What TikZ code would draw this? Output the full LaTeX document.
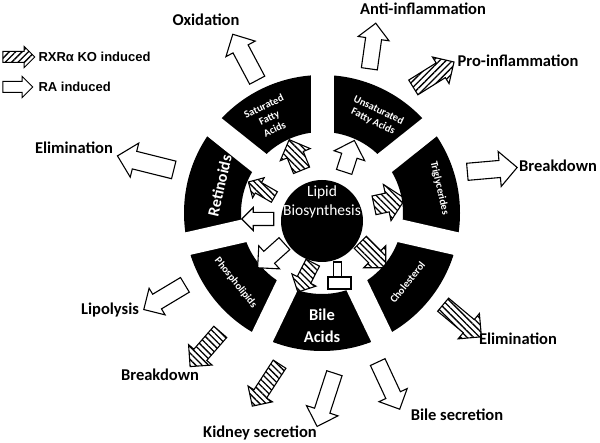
\documentclass[tikz,border=0pt]{standalone}
\usepackage{fontspec}
\setmainfont{Carlito}
\newfontfamily\legendfont{Liberation Sans}
\usetikzlibrary{shapes.arrows, patterns.meta}

\tikzset{
    blockarrow/.style n args={3}{single arrow, draw=black, line width=1.1pt,
        inner xsep=0pt, inner ysep=#3*0.5pt, minimum height=#1pt,
        single arrow head extend=(#2-#3)/2*1pt},
    hatched/.style={pattern={Lines[angle=#1,distance=4.5pt,line width=1.3pt]}},
    hatched/.default=-45,
    outtext/.style={font=\bfseries\fontsize{16.5}{19}\selectfont},
    segtext/.style={text=white, align=center, font=\bfseries\fontsize{10.5}{12.5}\selectfont},
    bigsegtext/.style={text=white, align=center, font=\bfseries\fontsize{16.5}{22}\selectfont},
}

\begin{document}
\begin{tikzpicture}[x=1pt, y=1pt]
    \useasboundingbox (0,0) rectangle (600,-443);
    \coordinate (c) at (322,-213);

    % ring
    \fill[even odd rule] (c) circle[radius=138] (c) circle[radius=81];
    \foreach \a in {90,141.43,192.86,244.29,295.71,347.14,38.57}
        \draw[white, line width=23pt] (c) -- ++(\a:150);
    \fill (322,-221) circle[radius=41];
    \node[text=white, align=center, font=\fontsize{15.5}{19}\selectfont] (lipid) at (322,-202) {Lipid\\Biosynthesis};

    % segment labels
    \node[segtext, rotate=25.7] (satfa) at ([shift={(119:109)}]c) {Saturated\\Fatty\\Acids};
    \node[segtext, rotate=-25.7] (unsatfa) at ([shift={(61:111)}]c) {Unsaturated\\Fatty Acids};
    \node[segtext, rotate=-77] (trig) at ([shift={(12:120)}]c) {Triglycerides};
    \node[segtext, rotate=51.4] (chol) at ([shift={(-39:110)}]c) {Cholesterol};
    \node[bigsegtext] (bile) at ([shift={(-90:113)}]c) {Bile\\Acids};
    \node[segtext, rotate=-51.4] (phos) at ([shift={(219:111)}]c) {Phospholipids};
    \node[bigsegtext, rotate=77, font=\bfseries\fontsize{16}{19}\selectfont] (ret) at ([shift={(165:106)}]c) {Retinoids};

    % inner arrows
    \node[blockarrow={33}{31}{16}, hatched, rotate=112] (a-sat) at (297,-159) {};
    \node[blockarrow={33}{31}{15}, fill=white, rotate=72] (a-unsat) at (348,-160) {};
    \node[blockarrow={30}{22}{11}, hatched, rotate=150] (a-ret1) at (264,-191) {};
    \node[blockarrow={32}{22}{12}, fill=white, rotate=180] (a-ret2) at (261,-219) {};
    \node[blockarrow={32}{36}{18}, hatched, rotate=12] (a-trig) at (385,-203) {};
    \node[blockarrow={36}{30}{16}, hatched, rotate=-45] (a-chol) at (370,-252) {};
    \node[blockarrow={33}{26}{14}, hatched, rotate=-117] (a-bile) at (307,-274) {};
    \node[blockarrow={36}{30}{15}, fill=white, rotate=-138] (a-phos) at (274,-253) {};
    % inhibition on bile acids
    \draw[line width=1.1pt, fill=white] (333.5,-262) rectangle (341.5,-277);
    \draw[line width=1.1pt, fill=white] (328,-277) rectangle (351,-289);

    % outer arrows
    \node[blockarrow={52}{32}{16}, fill=white, rotate=118] (o-ox) at (247,-61) {};
    \node[blockarrow={46}{30}{15}, fill=white, rotate=82] (o-anti) at (372,-50) {};
    \node[blockarrow={48}{30}{16}, hatched=45, rotate=32] (o-pro) at (430,-77) {};
    \node[blockarrow={58}{34}{17}, fill=white, rotate=166] (o-elim1) at (150,-164) {};
    \node[blockarrow={50}{34}{16}, fill=white, rotate=5] (o-break1) at (488,-170) {};
    \node[blockarrow={50}{32}{16}, hatched, rotate=-40] (o-elim2) at (459,-318) {};
    \node[blockarrow={52}{30}{15}, fill=white, rotate=-65] (o-bsec) at (387,-382) {};
    \node[blockarrow={56}{32}{15}, fill=white, rotate=-108] (o-kid1) at (327,-396) {};
    \node[blockarrow={50}{28}{14}, hatched, rotate=-123] (o-kid2) at (268,-382) {};
    \node[blockarrow={46}{30}{16}, hatched, rotate=-131] (o-break2) at (208,-346) {};
    \node[blockarrow={48}{30}{16}, fill=white, rotate=-149] (o-lipo) at (168,-295) {};

    % outer labels
    \node[outtext] (oxid) at (206,-20) {Oxidation};
    \node[outtext] (antiinf) at (423,-9) {Anti-inflammation};
    \node[outtext] (proinf) at (518,-61) {Pro-inflammation};
    \node[outtext] (elim1) at (74,-148) {Elimination};
    \node[outtext] (break1) at (558,-166) {Breakdown};
    \node[outtext] (lipo) at (110,-310) {Lipolysis};
    \node[outtext] (break2) at (160,-375) {Breakdown};
    \node[outtext] (elim2) at (518,-339) {Elimination};
    \node[outtext] (kidney) at (260,-433) {Kidney secretion};
    \node[outtext] (bilesec) at (457,-415) {Bile secretion};

    % legend
    \node[blockarrow={32}{20}{10}, hatched=45, line width=1pt] (leg1) at (16,-57) {};
    \node[blockarrow={30}{20}{10}, fill=white, line width=1pt] (leg2) at (15,-87) {};
    \node[anchor=west, font=\legendfont\bfseries\fontsize{13}{15}\selectfont] (leg1text) at (35,-57) {RXRα KO induced};
    \node[anchor=west, font=\legendfont\bfseries\fontsize{13}{15}\selectfont] (leg2text) at (35,-87) {RA induced};
\end{tikzpicture}
\end{document}
